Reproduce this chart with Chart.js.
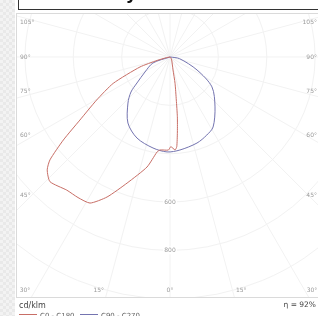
<!DOCTYPE html>
<html>
<head>
<meta charset="utf-8">
<script src="https://cdn.jsdelivr.net/npm/chart.js@4"></script>
<style>
  html, body { margin: 0; padding: 0; background: #fff; }
  #wrap { width: 318px; height: 316px; }
</style>
</head>
<body>
<div id="wrap"><canvas id="ldc" width="318" height="316"></canvas></div>
<script>
// Gamma angles (deg from nadir, + = C0 / C90 side) and intensities in cd/klm
const redAngles  = [90, 45, 29.5, 13, 10.8, 8.3, 7, 5.6, 4.3, 3.1, 0.5, -1, -6.1, -7.8, -11.8, -18.8, -24.2, -28.7, -33.2, -37.8, -43.9, -47.4, -49.4, -52.1, -55, -59.6, -65.1, -71.6, -75, -80, -90];
const redValues  = [0, 5, 14, 55, 111, 180, 249, 312, 372, 385, 371, 385, 387, 397, 465, 551, 635, 689, 695, 697, 716, 690, 654, 559, 455, 352, 259, 131, 55, 15, 0];

const blueAngles = [90, 80, 64.3, 54.5, 42, 31.6, 25.2, 17.4, 6.1, -1.8, -10.6, -22.2, -32.5, -42.4, -48.1, -51.8, -59, -70.6, -90];
const blueValues = [0, 40, 124, 213, 278, 340, 357, 373, 387, 393, 383, 362, 324, 258, 217, 174, 121, 75, 0];

const seriesNames = ["C0 - C180", "C90 - C270"];
const seriesColors = ["#c86e66", "#7474b0"];

// grid
const ringValues = [200, 400, 600, 800, 1000, 1200, 1400];
const ringLabels = [600, 800];
const sideAngles = [45, 60, 75, 90, 105];
const bottomAngles = [-30, -15, 0, 15, 30];
const efficiency = "η = 92%";
const unitText = "cd/klm";
const titleText = "Photometry";

function toXY(angles, values) {
  return angles.map((g, i) => {
    const r = g * Math.PI / 180;
    return { x: values[i] * Math.sin(r), y: -values[i] * Math.cos(r) };
  });
}

const labelFont = '6px "DejaVu Sans", sans-serif';

const polarGrid = {
  id: 'polarGrid',
  beforeDraw(chart) {
    const ctx = chart.ctx;
    ctx.save();
    ctx.fillStyle = '#ffffff';
    ctx.fillRect(0, 0, chart.width, chart.height);
    // grey patterned strip on the left
    for (let yy = 0; yy < chart.height; yy += 3) {
      for (let xx = 0; xx < 14; xx += 3) {
        ctx.fillStyle = ((xx + yy) / 3) % 2 ? '#e9e9e9' : '#f3f3f3';
        ctx.fillRect(xx, yy, 3, 3);
      }
    }
    ctx.restore();
  },
  beforeDatasetsDraw(chart) {
    const { ctx, chartArea: a, scales: { x, y } } = chart;
    const cx = x.getPixelForValue(0), cy = y.getPixelForValue(0);
    ctx.save();
    ctx.beginPath();
    ctx.rect(a.left, a.top, a.right - a.left, a.bottom - a.top);
    ctx.clip();
    ctx.strokeStyle = '#f2f2f2';
    ctx.lineWidth = 1;
    ringValues.forEach(v => {
      const r = x.getPixelForValue(v) - cx;
      ctx.beginPath();
      ctx.arc(cx, cy, r, 0, Math.PI * 2);
      ctx.stroke();
    });
    for (let g = 0; g < 360; g += 15) {
      const rad = g * Math.PI / 180;
      ctx.beginPath();
      ctx.moveTo(cx, cy);
      ctx.lineTo(cx + 600 * Math.sin(rad), cy + 600 * Math.cos(rad));
      ctx.stroke();
    }
    ctx.restore();

    ctx.save();
    ctx.font = labelFont;
    ctx.fillStyle = '#9a9a9a';
    ctx.textBaseline = 'middle';
    // ring labels on the nadir axis
    ctx.textAlign = 'center';
    ringLabels.forEach(v => {
      const py = y.getPixelForValue(-v);
      ctx.fillStyle = '#fff';
      ctx.fillRect(cx - 7, py - 4, 14, 8);
      ctx.fillStyle = '#9a9a9a';
      ctx.fillText(String(v), cx, py);
    });
    // angle labels on the sides
    const dx = 148;
    sideAngles.forEach(g => {
      const ge = (g < 90 ? g + 2 : g > 90 ? g - 2 : g) * Math.PI / 180;
      const py = cy + dx * Math.cos(ge) / Math.sin(ge);
      ctx.textAlign = 'left';
      ctx.fillText(g + '°', a.left + 4, py);
      ctx.textAlign = 'right';
      ctx.fillText(g + '°', a.right - 1, py);
    });
    // angle labels along the bottom
    const by = a.bottom - 7;
    ctx.textAlign = 'center';
    bottomAngles.forEach(g => {
      const ge = (Math.abs(g) + (g === 0 ? 0 : 2)) * Math.PI / 180 * Math.sign(g || 1);
      let px = cx + (by - cy) * Math.tan(ge);
      px = Math.max(a.left + 9, Math.min(a.right - 6, px));
      ctx.fillText(Math.abs(g) + '°', px, by);
    });
    ctx.restore();
  },
  afterDraw(chart) {
    const { ctx, chartArea: a } = chart;
    ctx.save();
    // frame
    ctx.strokeStyle = '#dadada';
    ctx.lineWidth = 1;
    ctx.strokeRect(a.left + 0.5, a.top + 0.5, a.right - a.left + 2, a.bottom - a.top);
    // title box (mostly above the visible area)
    ctx.fillStyle = '#fff';
    ctx.fillRect(18, -20, 310, 29.5);
    ctx.strokeStyle = '#333';
    ctx.strokeRect(18.5, -20, 310, 29.5);
    ctx.fillStyle = '#111';
    ctx.font = 'bold 17px "DejaVu Sans", sans-serif';
    ctx.textAlign = 'left';
    ctx.textBaseline = 'alphabetic';
    ctx.fillText(titleText, 24, -1);
    // unit and efficiency
    ctx.fillStyle = '#444';
    ctx.font = '8px "DejaVu Sans", sans-serif';
    ctx.textBaseline = 'middle';
    ctx.fillText(unitText, a.left + 3, 306);
    ctx.textAlign = 'right';
    ctx.font = '7.5px "DejaVu Sans", sans-serif';
    ctx.fillText(efficiency, 316, 305);
    // legend
    ctx.textAlign = 'left';
    ctx.font = '7px "DejaVu Sans", sans-serif';
    ctx.fillStyle = '#666';
    const lx = [a.left + 3, a.left + 64];
    seriesNames.forEach((n, i) => {
      ctx.strokeStyle = seriesColors[i];
      ctx.beginPath();
      ctx.moveTo(lx[i], 314.5);
      ctx.lineTo(lx[i] + 18, 314.5);
      ctx.stroke();
      ctx.fillText(n, lx[i] + 21, 316);
    });
    ctx.restore();
  }
};

new Chart(document.getElementById('ldc'), {
  type: 'scatter',
  data: {
    datasets: [
      { label: seriesNames[0], data: toXY(redAngles, redValues), borderColor: seriesColors[0],
        showLine: true, pointRadius: 0, borderWidth: 1, tension: 0.2, fill: false },
      { label: seriesNames[1], data: toXY(blueAngles, blueValues), borderColor: seriesColors[1],
        showLine: true, pointRadius: 0, borderWidth: 1, tension: 0.3, fill: false }
    ]
  },
  options: {
    responsive: false,
    animation: false,
    layout: { padding: { left: 16, right: 0, top: 13, bottom: 19 } },
    scales: {
      x: { type: 'linear', min: -637, max: 612, display: false },
      y: { type: 'linear', min: -993, max: 182, display: false }
    },
    plugins: { legend: { display: false }, tooltip: { enabled: false } }
  },
  plugins: [polarGrid]
});
</script>
</body>
</html>
